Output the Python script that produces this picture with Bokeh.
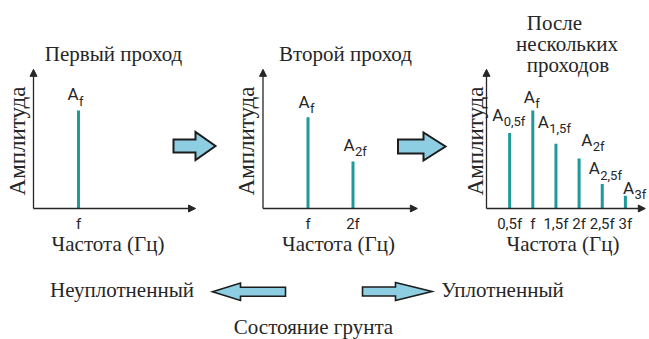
from math import pi

from bokeh.core.properties import value
from bokeh.embed import file_html
from bokeh.models import Arrow, ColumnDataSource, NormalHead, Range1d
from bokeh.plotting import figure
from bokeh.resources import INLINE

# ---------------- spectra after each pass ----------------
first_freq = [1.0]
first_amp = [1.0]
first_ticks = ["f"]

second_freq = [1.0, 2.0]
second_amp = [0.93, 0.48]
second_ticks = ["f", "2f"]

multi_freq = [0.5, 1.0, 1.5, 2.0, 2.5, 3.0]
multi_amp = [0.77, 1.0, 0.66, 0.51, 0.25, 0.13]
multi_ticks = ["0,5f", "f", "1,5f", "2f", "2,5f", "3f"]

first_title = ["Первый проход"]
second_title = ["Второй проход"]
multi_title = ["После", "нескольких", "проходов"]

y_label = "Амплитуда"
x_label = "Частота (Гц)"
state_loose = "Неуплотненный"
state_dense = "Уплотненный"
state_caption = "Состояние грунта"

# ---------------- canvas and styling ----------------
W, H = 649, 339
TEAL = "#1f9a98"
INK = "#262626"
ARROW_FILL = "#8dcee2"
SERIF = value("Liberation Serif")
SANS = value("Roboto")
SERIF_PX = 21
YLAB_PX = 23
TICK_PX, A_PX, SUB_PX = 15, 17, 13
LIFT = 0.33               # baseline correction, fraction of the font size

OY, KY = 208, 98          # pixel row of the frequency axis, pixels per amplitude unit
Y_TIP = 1.42              # amplitude axis length
SUB_DX, SUB_DROP = 11.5, 5.5


def up(py, size=0):
    """Canvas row (from the top) -> layout y (from the bottom), baseline-corrected."""
    return H - py + LIFT * size


p = figure(width=W, height=H, x_range=Range1d(0, W), y_range=Range1d(0, H),
           x_axis_type=None, y_axis_type=None, toolbar_location=None,
           output_backend="svg", min_border=0, outline_line_color=None,
           background_fill_color="white", border_fill_color="white")
p.grid.visible = False

panels = [
    dict(key="first", freq=first_freq, amp=first_amp, ticks=first_ticks,
         ox=33, kx=45, x_tip=3.6,
         a_dx=[-11], a_rise=[10.7],
         title=first_title, title_pos=[(113, 60)],
         ylab_cx=16.5, xlab_cx=107.5),
    dict(key="second", freq=second_freq, amp=second_amp, ticks=second_ticks,
         ox=262.5, kx=45, x_tip=3.43,
         a_dx=[-9.5, -9.5], a_rise=[10, 10.7],
         title=second_title, title_pos=[(345, 60)],
         ylab_cx=245.5, xlab_cx=338),
    dict(key="multi", freq=multi_freq, amp=multi_amp, ticks=multi_ticks,
         ox=486, kx=46.3, x_tip=3.43,
         a_dx=[-17.5, -9, -18.2, 2.1, -13.5, -2.5],
         a_rise=[12.7, 8.3, 16.6, 13, 10.2, 2],
         title=multi_title, title_pos=[(554, 29), (566.5, 50), (567.5, 71.5)],
         ylab_cx=475, xlab_cx=562.5),
]

extra_x, extra_y = {}, {}
for pn in panels:
    xr, yr = pn["key"] + "_x", pn["key"] + "_y"
    ox, kx = pn["ox"], pn["kx"]
    extra_x[xr] = Range1d(-ox / kx, (W - ox) / kx)
    extra_y[yr] = Range1d(-(H - OY) / KY, OY / KY)

    n = len(pn["freq"])
    src = ColumnDataSource(dict(
        f=pn["freq"], a=pn["amp"], tick=pn["ticks"], A=["A"] * n,
        dx=pn["a_dx"], dy=[-(r + LIFT * A_PX) for r in pn["a_rise"]],
        sdx=[d + SUB_DX for d in pn["a_dx"]],
        sdy=[-(r - SUB_DROP + LIFT * SUB_PX) for r in pn["a_rise"]],
    ))
    rng = dict(x_range_name=xr, y_range_name=yr)

    # spectral lines
    p.segment(x0="f", y0=0, x1="f", y1="a", source=src, line_color=TEAL,
              line_width=3, line_cap="butt", **rng)

    # axes with arrow heads
    for xe, ye in ((pn["x_tip"], 0), (0, Y_TIP)):
        p.add_layout(Arrow(x_start=0, y_start=0, x_end=xe, y_end=ye,
                           end=NormalHead(size=7, fill_color=INK, line_color=INK, line_width=1),
                           line_color=INK, line_width=1.3, **rng))

    # tick labels under the lines
    p.text(x="f", y=0, text="tick", source=src, y_offset=20 - LIFT * TICK_PX,
           text_font=SANS, text_font_size=f"{TICK_PX}px", text_color=INK,
           text_align="center", text_baseline="alphabetic", **rng)

    # amplitude labels A with subscripts
    p.text(x="f", y="a", text="A", source=src, x_offset="dx", y_offset="dy",
           text_font=SANS, text_font_size=f"{A_PX}px", text_color=INK,
           text_align="left", text_baseline="alphabetic", **rng)
    p.text(x="f", y="a", text="tick", source=src, x_offset="sdx", y_offset="sdy",
           text_font=SANS, text_font_size=f"{SUB_PX}px", text_color=INK,
           text_align="left", text_baseline="alphabetic", **rng)

    # titles and axis captions
    p.text(x=[c for c, _ in pn["title_pos"]],
           y=[up(b, SERIF_PX) for _, b in pn["title_pos"]],
           text=pn["title"], text_font=SERIF, text_font_size=f"{SERIF_PX}px",
           text_color=INK, text_align="center", text_baseline="alphabetic")
    p.text(x=[pn["ylab_cx"]], y=[up(140.5)], text=[y_label], angle=pi / 2,
           text_font=SERIF, text_font_size=f"{YLAB_PX}px", text_color=INK,
           text_align="center", text_baseline="middle")
    p.text(x=[pn["xlab_cx"]], y=[up(250, SERIF_PX)], text=[x_label],
           text_font=SERIF, text_font_size=f"{SERIF_PX}px", text_color=INK,
           text_align="center", text_baseline="alphabetic")

p.extra_x_ranges = extra_x
p.extra_y_ranges = extra_y


def block_arrow(x_tail, x_base, x_tip, yc, body, head):
    """Outline of a block arrow; direction follows x_tail -> x_tip."""
    xs = [x_tail, x_base, x_base, x_tip, x_base, x_base, x_tail]
    ys = [yc - body, yc - body, yc - head, yc, yc + head, yc + body, yc + body]
    return xs, [up(y) for y in ys]


arrows = [
    (block_arrow(173, 195, 215, 145.5, 6.5, 14), 2),
    (block_arrow(397.5, 423, 445, 146, 7, 14), 2),
    (block_arrow(285, 240, 212, 291.3, 4.5, 8.7), 1.6),
    (block_arrow(362, 395, 431.5, 291, 4.5, 9), 1.6),
]
for (xs, ys), lw in arrows:
    p.patch(xs, ys, fill_color=ARROW_FILL, line_color="#1c1c1c",
            line_width=lw, line_join="miter")

# soil-state captions
p.text(x=[121.5, 502, 313],
       y=[up(296.7, SERIF_PX), up(296.7, SERIF_PX), up(333, SERIF_PX)],
       text=[state_loose, state_dense, state_caption],
       text_font=SERIF, text_font_size=f"{SERIF_PX}px", text_color=INK,
       text_align="center", text_baseline="alphabetic")

open("out.html", "w").write(file_html(p, INLINE))
